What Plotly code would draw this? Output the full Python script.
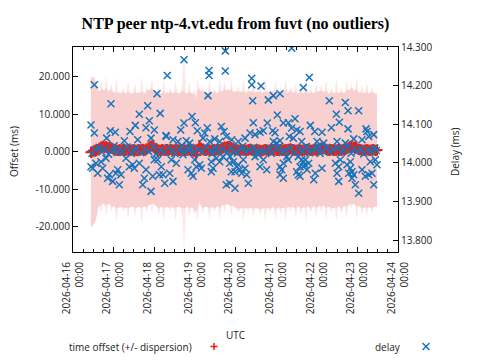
import pandas as pd
import plotly.graph_objects as go

# ---------------- data ----------------
title_text = "NTP peer ntp-4.vt.edu from fuvt (no outliers)"
day_ticks = ["2026-04-16", "2026-04-17", "2026-04-18", "2026-04-19", "2026-04-20",
             "2026-04-21", "2026-04-22", "2026-04-23", "2026-04-24"]
offset_ticks = [-20, -10, 0, 10, 20]
delay_ticks = [13.8, 13.9, 14.0, 14.1, 14.2, 14.3]

t0 = pd.Timestamp("2026-04-16 00:00")
offset_start = pd.Timestamp("2026-04-16 10:36")   # hourly samples

offset_ms = [
    -0.2, 0.0, 0.3, 0.2, 0.5,
    0.9, 1.2, 1.4, 1.1, 1.3, 1.0, 1.2, 0.9, 0.7,
    0.5, 0.4, 0.3, 0.5, 0.4, 0.6, 0.3, 0.4, 0.5, 0.3, 0.4, 0.5, 0.4, 0.3, 0.5, 0.4,
    0.5, 0.6, 0.4, 0.7,
    1.0, 1.3, 1.5, 1.2, 0.8, 0.6,
    0.4, 0.3, 0.5, 0.4, 0.3, 0.5, 0.4, 0.6, 0.4, 0.3, 0.4, 0.5, 0.3, 0.4, 0.5, 0.4, 0.3, 0.4, 0.5, 0.4, 0.2, 0.1,
    -0.9, 0.6, 1.6,
    0.9, 0.5, 0.4, 0.3, 0.5, 0.4, 0.3, 0.4, 0.5, 0.4, 0.6, 0.5, 0.7,
    1.0, 1.2, 1.1, 1.3, 1.0, 1.1, 0.8,
    0.6, 0.5, 0.4, 0.3, 0.5, 0.4, 0.4, 0.3, 0.5, 0.6,
    0.4, 0.3, 0.4, 0.5, 0.4, 0.3, 0.2, 0.4, 0.5, 0.4,
    0.3, 0.4, 0.6, 0.5, 0.4, 0.3, 0.4, 0.5, 0.3, 0.4,
    0.5, 0.4, 0.6, 0.7, 0.5, 0.4, 0.3, 0.4, 0.5, 0.4,
    0.3, 0.4, 0.5, 0.6, 0.4, 0.3, 0.4, 0.5, 0.4, 0.6,
    0.8, 0.9, 0.7, 0.8, 0.6,
    0.4, 0.3, 0.5, 0.4, 0.3, 0.4, 0.5, 0.4, 0.3, 0.5, 0.6, 0.7,
    1.0, 1.3, 1.4, 1.2, 1.1, 0.9,
    0.6, 0.5, 0.4, 0.3, 0.4, 0.5, 0.4, 0.3, 0.4, 0.5, 0.3, 0.4,
]

dispersion_ms = [
    20.0, 19.8, 19.4, 18.2, 17.0,
    15.2, 17.8, 15.1, 15.3, 18.9, 15.2, 15.0, 17.2, 15.3, 15.1,
    19.6, 15.2, 15.4, 15.1, 16.8, 15.2, 15.3, 18.4, 15.1, 15.2,
    15.0, 17.9, 15.2, 15.3, 15.1, 19.8, 15.2, 15.0, 16.9, 15.3,
    15.2, 18.1, 15.1, 15.3, 15.2, 17.4, 15.0, 15.2, 19.2, 15.1,
    15.3, 15.2, 16.6, 15.1, 15.4, 18.7, 15.2, 15.1, 15.3, 17.5,
    27.0, 15.2, 15.1, 18.2, 15.3, 15.2, 16.8, 15.1, 19.4, 15.2,
    15.3, 17.1, 15.2, 15.0, 15.2, 18.9, 15.1, 15.3, 16.4, 15.2,
    15.1, 19.1, 15.3, 15.2, 17.6, 15.1, 15.4, 15.2, 18.3, 15.1,
    15.5, 15.7, 17.0, 15.6, 15.5, 19.0, 15.6, 15.4, 16.9, 15.5,
    15.6, 18.2, 15.4, 15.5, 15.6, 17.3, 15.5, 15.4, 19.3, 15.6,
    15.5, 16.7, 15.4, 15.6, 18.5, 15.5, 15.3, 17.1, 15.4, 15.5,
    19.0, 15.3, 15.4, 16.8, 15.2, 15.3, 18.1, 15.2, 15.1, 17.4,
    15.3, 15.2, 19.5, 15.1, 15.3, 16.6, 15.2, 15.1, 18.0, 15.3,
    15.2, 17.2, 15.1, 15.3, 18.8, 15.2, 15.1, 16.9, 15.3, 15.2,
    19.2, 15.1, 15.3, 17.0, 15.2, 15.1, 18.4, 15.3, 15.2, 16.7,
    15.1, 15.3, 19.0, 15.2, 15.1, 17.5, 15.3, 15.2, 18.1, 15.1,
    15.3, 16.9, 15.2, 15.1, 15.0,
]

# delay samples: hours after 2026-04-16 00:00 UTC, and delay in ms
delay_hours = [
    10.63, 12.58, 12.58, 22.45, 22.04, 24.99, 19.91, 30.31, 33.68, 36.81,
    39.17, 44.13, 49.63, 45.08, 43.13, 48.03, 51.5, 38.22, 46.08, 10.63,
    14.59, 17.55, 20.50, 23.45, 27.35, 26.41, 28.36, 35.27, 36.22, 31.31,
    43.13, 42.12, 41.18, 46.08, 47.09, 51.0, 48.03, 19.50, 16.54, 11.64,
    13.59, 21.45, 25.40, 33.26, 39.17, 50.04, 54.94, 55.71, 65.58, 80.35,
    80.35, 89.98, 89.98, 79.76, 70.31, 72.25, 65.58, 63.63, 73.44, 79.34,
    77.81, 76.80, 87.61, 89.21, 90.57, 86.67, 83.72, 55.12, 59.08, 62.03,
    66.94, 68.94, 80.76, 53.17, 54.18, 59.08, 57.13, 58.08, 61.03, 64.99,
    67.94, 69.89, 70.90, 72.85, 74.85, 75.80, 71.90, 81.71, 82.71, 81.71,
    84.66, 86.67, 88.62, 92.58, 93.52, 90.57, 92.58, 52.17, 129.21, 105.58,
    105.58, 111.07, 106.17, 115.38, 118.34, 122.30, 136.06, 120.70, 106.52, 114.79,
    117.98, 119.34, 124.25, 127.20, 131.16, 129.21, 132.16, 134.11, 127.79, 130.15,
    104.57, 107.52, 110.48, 112.43, 93.76, 97.66, 101.62, 118.34, 120.35, 122.30,
    135.12, 92.76, 94.70, 96.71, 98.66, 97.66, 100.61, 95.71, 99.67, 101.62,
    102.62, 95.71, 103.57, 110.48, 114.44, 112.43, 107.52, 109.47, 122.30, 123.30,
    124.25, 122.30, 124.25, 127.20, 126.26, 133.11, 135.12, 134.11, 132.16, 133.11,
    134.11, 137.07, 136.06, 139.61, 151.42, 160.87, 155.56, 157.33, 162.47, 168.79,
    140.20, 142.80, 147.11, 152.60, 162.47, 173.10, 173.70, 170.74, 174.70, 177.66,
    165.83, 160.87, 155.97, 144.16, 148.11, 145.16, 137.25, 139.25, 136.30, 138.25,
    143.15, 147.11, 142.21, 154.97, 156.97, 155.97, 156.97, 157.92, 161.88, 163.83,
    164.83, 162.88, 165.83, 164.83, 166.78, 168.79, 163.83, 170.74, 172.69, 174.70,
    176.65, 177.66, 175.65, 178.60, 179.60,
    11.2, 13.0, 15.4, 17.1, 18.8, 21.0, 23.1, 24.3, 26.0, 28.0,
    29.4, 31.9, 34.5, 36.0, 37.4, 40.1, 42.6, 44.8, 47.5, 49.0,
    51.6, 53.8, 56.5, 58.9, 60.2, 62.8, 64.3, 66.2, 68.3, 69.4,
    71.2, 73.8, 76.2, 78.6, 81.0, 82.2, 84.1, 85.9, 88.0, 91.1,
    93.2, 95.0, 97.1, 99.0, 100.2, 102.0, 104.0, 106.8, 108.5, 110.9,
    113.5, 116.0, 117.2, 119.8, 121.5, 123.8, 125.4, 128.5, 130.7, 133.6,
    135.8, 137.9, 139.9, 141.5, 143.9, 146.0, 147.6, 149.9, 151.9, 153.8,
    156.2, 158.6, 160.0, 162.1, 164.3, 166.2, 167.9, 170.0, 171.8, 174.2,
    176.2, 178.3, 179.2,
]
delay_ms = [
    14.098, 14.202, 14.077, 14.153, 14.083, 14.079, 14.064, 14.057, 14.081, 14.097,
    14.126, 14.148, 14.179, 14.109, 14.091, 14.085, 14.128, 14.060, 14.064, 13.990,
    13.973, 13.986, 13.960, 13.952, 13.943, 13.982, 13.969, 13.995, 13.986, 14.012,
    13.982, 13.960, 13.943, 13.926, 13.965, 13.969, 14.008, 14.012, 14.003, 13.986,
    13.999, 13.969, 13.973, 13.990, 13.999, 14.008, 14.071, 14.226, 14.267, 14.239,
    14.226, 14.290, 14.238, 14.174, 14.120, 14.104, 14.103, 14.085, 14.083, 14.091,
    14.077, 14.064, 14.094, 14.081, 14.068, 14.055, 14.062, 14.068, 14.060, 14.055,
    14.057, 14.051, 14.055, 13.969, 13.947, 13.952, 13.973, 14.008, 13.999, 14.021,
    13.982, 13.973, 13.965, 13.990, 13.995, 13.986, 14.008, 14.003, 13.986, 13.977,
    14.012, 14.003, 14.016, 13.999, 13.977, 13.943, 13.947, 13.990, 14.297, 14.219,
    14.202, 14.199, 14.161, 14.163, 14.174, 14.179, 14.195, 14.124, 14.104, 14.103,
    14.083, 14.078, 14.103, 14.104, 14.114, 14.090, 14.085, 14.081, 14.068, 14.064,
    14.077, 14.073, 14.079, 14.083, 14.060, 14.055, 14.064, 14.055, 14.051, 14.057,
    14.055, 14.016, 14.003, 13.990, 13.982, 13.995, 14.008, 13.977, 13.973, 13.986,
    13.969, 13.934, 13.947, 13.990, 13.982, 14.008, 14.016, 14.021, 13.990, 13.982,
    13.999, 13.969, 13.960, 14.008, 14.016, 14.016, 14.008, 13.990, 13.977, 13.969,
    13.965, 13.995, 14.003, 14.221, 14.161, 14.156, 14.126, 14.105, 14.135, 14.135,
    14.097, 14.081, 14.079, 14.091, 14.088, 14.088, 14.081, 14.060, 14.068, 14.073,
    14.062, 14.051, 14.055, 14.055, 14.051, 14.042, 14.008, 13.999, 13.990, 13.982,
    13.973, 13.986, 13.956, 13.999, 13.990, 13.973, 13.952, 14.008, 13.995, 13.986,
    13.977, 13.973, 13.969, 13.960, 13.943, 13.921, 14.003, 13.982, 13.965, 13.969,
    13.973, 13.943, 14.003, 14.008, 13.995,
    14.025, 14.034, 14.040, 14.028, 14.037, 14.022, 14.031, 14.044, 14.027, 14.035,
    14.030, 14.041, 14.024, 14.033, 14.038, 14.026, 14.035, 14.029, 14.042, 14.023,
    14.034, 14.027, 14.039, 14.031, 14.024, 14.036, 14.043, 14.028, 14.033, 14.040,
    14.026, 14.035, 14.029, 14.041, 14.032, 14.024, 14.038, 14.030, 14.036, 14.027,
    14.039, 14.031, 14.025, 14.037, 14.043, 14.028, 14.034, 14.040, 14.026, 14.033,
    14.029, 14.038, 14.024, 14.035, 14.041, 14.027, 14.032, 14.039, 14.025, 14.036,
    14.030, 14.042, 14.026, 14.034, 14.038, 14.024, 14.031, 14.040, 14.028, 14.035,
    14.039, 14.027, 14.033, 14.041, 14.025, 14.036, 14.030, 14.037, 14.023, 14.034,
    14.029, 14.038, 14.032,
]

# ---------------- styling ----------------
RED = "#ec1c12"
BLUE = "#1574bb"
PINK = "#f9d0d0"
PINK_LIGHT = "#fce6e6"   # thin dispersion spikes render lighter in the reference
FONT = "Open Sans"
TXT = "#222222"
CORE_LIMIT = 15.6        # dispersion above this is drawn as light "spike" shading
STARTUP_SAMPLES = 4      # first samples drawn fully solid

# plot-area geometry in pixels (for legend keys/labels placed in paper coords)
L, R, T, B = 73, 398, 47, 252
def px(x):
    return (x - L) / (R - L)
def py(y):
    return (B - y) / (B - T)

times = pd.date_range(offset_start, periods=len(offset_ms), freq="60min")
core = [d if i < STARTUP_SAMPLES else min(d, CORE_LIMIT) for i, d in enumerate(dispersion_ms)]
lower = [o - d for o, d in zip(offset_ms, dispersion_ms)]
upper = [o + d for o, d in zip(offset_ms, dispersion_ms)]
lower_core = [o - d for o, d in zip(offset_ms, core)]
upper_core = [o + d for o, d in zip(offset_ms, core)]
delay_times = t0 + pd.to_timedelta(delay_hours, unit="h")

fig = go.Figure()
fig.add_trace(go.Scatter(x=times, y=lower, mode="lines", line=dict(width=0, color=PINK_LIGHT),
                         showlegend=False, hoverinfo="skip"))
fig.add_trace(go.Scatter(x=times, y=upper, mode="lines", line=dict(width=0, color=PINK_LIGHT),
                         fill="tonexty", fillcolor=PINK_LIGHT, showlegend=False, hoverinfo="skip"))
fig.add_trace(go.Scatter(x=times, y=lower_core, mode="lines", line=dict(width=0, color=PINK),
                         showlegend=False, hoverinfo="skip"))
fig.add_trace(go.Scatter(x=times, y=upper_core, mode="lines", line=dict(width=0, color=PINK),
                         fill="tonexty", fillcolor=PINK, showlegend=False, hoverinfo="skip"))
fig.add_trace(go.Scatter(x=times, y=offset_ms, mode="markers", name="time offset (+/- dispersion)",
                         marker=dict(symbol="cross-thin", size=8, line=dict(width=2, color=RED), color=RED),
                         showlegend=False))
fig.add_trace(go.Scatter(x=delay_times, y=delay_ms, mode="markers", name="delay", yaxis="y2",
                         marker=dict(symbol="x-thin", size=7, line=dict(width=1.5, color=BLUE), color=BLUE),
                         showlegend=False))

x_ticktext = [d + "<br>00:00" for d in day_ticks]

fig.update_layout(
    width=480, height=360,
    margin=dict(l=L, r=480 - R, t=T, b=360 - B, pad=0),
    paper_bgcolor="white", plot_bgcolor="white",
    font=dict(family=FONT, size=10, color=TXT),
    title=dict(text=title_text, x=0.5, xref="paper", xanchor="center",
               y=1 - 23 / 360, yref="container", yanchor="middle",
               font=dict(family="Liberation Serif", size=16, weight="bold", color="black")),
    xaxis=dict(type="date", range=[day_ticks[0], day_ticks[-1]],
               tickmode="array", tickvals=day_ticks, ticktext=x_ticktext, tickangle=-90,
               ticks="inside", ticklen=5, tickcolor="black", tickwidth=1, ticklabelstandoff=5,
               showline=True, linecolor="black", linewidth=1, mirror="ticks",
               showgrid=False, zeroline=False,
               minor=dict(tickmode="linear", tick0=day_ticks[0], dtick=6 * 3600 * 1000,
                          ticks="inside", ticklen=3, tickcolor="black", showgrid=False),
               tickfont=dict(size=10, color=TXT)),
    yaxis=dict(range=[-26.8, 27.9], tickmode="array", tickvals=offset_ticks,
               ticktext=[f"{v:.3f}" for v in offset_ticks],
               ticks="inside", ticklen=5, tickcolor="black",
               showline=True, linecolor="black", linewidth=1, mirror=False,
               showgrid=False, zeroline=False, tickfont=dict(size=10, color=TXT)),
    yaxis2=dict(range=[13.769, 14.300], overlaying="y", side="right",
                tickmode="array", tickvals=delay_ticks,
                ticktext=[f"{v:.3f}" for v in delay_ticks],
                ticks="inside", ticklen=5, tickcolor="black",
                showline=True, linecolor="black", linewidth=1,
                showgrid=False, zeroline=False, tickfont=dict(size=10, color=TXT)),
    showlegend=False,
)

ann = [
    dict(text="Offset (ms)", x=px(14), y=py(152), textangle=-90),
    dict(text="Delay (ms)", x=px(455), y=py(152), textangle=-90),
    dict(text="UTC", x=px(236), y=py(335)),
    dict(text="time offset (+/- dispersion)", x=px(194), y=py(347), xanchor="right"),
    dict(text="delay", x=px(403), y=py(347), xanchor="right"),
]
for a in ann:
    fig.add_annotation(xref="paper", yref="paper", showarrow=False,
                       xanchor=a.get("xanchor", "center"), yanchor="middle",
                       font=dict(family=FONT, size=10, color=TXT),
                       **{k: v for k, v in a.items() if k != "xanchor"})

# legend keys
def seg(x0, y0, x1, y1, color, w):
    fig.add_shape(type="line", xref="paper", yref="paper",
                  x0=px(x0), y0=py(y0), x1=px(x1), y1=py(y1),
                  line=dict(color=color, width=w))
seg(210.5, 346.5, 217.5, 346.5, RED, 1.5)
seg(214, 343, 214, 350, RED, 1.5)
seg(422.5, 343, 429.5, 350, BLUE, 1.5)
seg(422.5, 350, 429.5, 343, BLUE, 1.5)

fig.write_html("out.html", config={"displayModeBar": False},
               post_script="document.body.style.margin='0';document.body.style.overflow='hidden';")
